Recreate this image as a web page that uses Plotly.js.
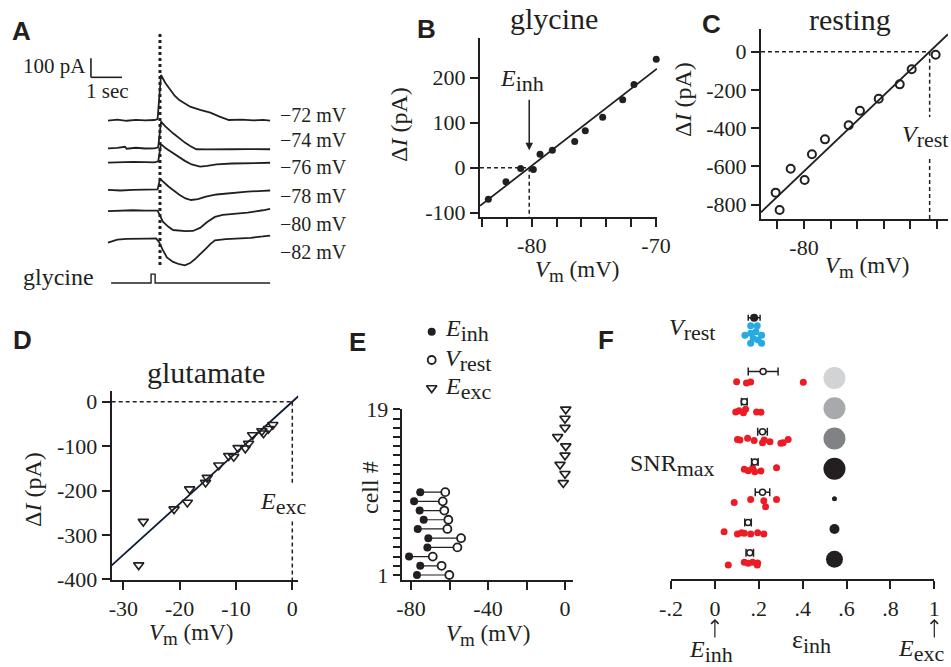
<!DOCTYPE html>
<html><head><meta charset="utf-8">
<script src="https://cdn.plot.ly/plotly-3.0.1.min.js"></script>
<style>html,body{margin:0;padding:0;background:#fff}#chart{width:951px;height:667px}</style>
</head><body><div id="chart"></div><script>
// ---------- Panel A: current traces (time s, current pA relative to baseline)
const aLabels = ['−72 mV','−74 mV','−76 mV','−78 mV','−80 mV','−82 mV'];
const t72 = [0,0.3,0.6,0.9,1.2,1.5,1.6,1.71,1.85,2.0,2.15,2.3,2.48,2.65,2.97,3.3,3.6,3.9,4.3,4.7,5.0,5.23];
const i72 = [-3,2,-4,1,-2,0,5,237,195,158,128,105,86,70,53,39,18,0,2,-2,1,-3];
const t74 = [0,0.3,0.55,0.6,0.9,1.2,1.5,1.62,1.71,1.85,2.1,2.3,2.48,2.65,2.85,3.2,3.6,4.0,4.5,5.0,5.23];
const i74 = [0,2,8,-2,3,-1,0,5,140,115,79,52,30,12,-5,-6,-4,-5,-4,-6,-5];
const t76 = [0,0.4,0.8,1.2,1.5,1.62,1.71,1.85,2.1,2.3,2.48,2.7,2.97,3.2,3.5,4.0,4.5,5.0,5.23];
const i76 = [-2,0,2,0,-1,5,95,75,47,25,7,-12,-23,-19,-11,-7,-5,-4,-3];
const t78 = [0,0.4,0.8,1.2,1.5,1.6,1.68,1.8,1.95,2.1,2.3,2.5,2.68,2.9,3.16,3.5,4.03,4.5,5.0,5.23];
const i78 = [0,-3,0,2,0,3,58,38,18,0,-25,-45,-53,-48,-35,-24,-14,-9,-5,-3];
const t80 = [0,0.4,0.8,1.2,1.5,1.6,1.77,1.95,2.1,2.3,2.5,2.74,2.97,3.2,3.45,3.7,4.03,4.5,5.0,5.23];
const i80 = [-3,0,2,0,1,0,-58,-85,-102,-106,-108,-107,-91,-60,-33,-22,-17,-10,2,9];
const t82 = [0,0.15,0.3,0.6,1.0,1.3,1.55,1.65,1.77,1.9,2.1,2.3,2.48,2.65,2.8,2.97,3.15,3.3,3.45,3.8,4.2,4.6,5.0,5.23];
const i82 = [-22,-12,-6,-3,0,-1,0,-20,-62,-100,-124,-136,-142,-130,-110,-85,-55,-30,-10,-4,-2,3,10,15];
const glyT = [0.1,1.39,1.39,1.52,1.52,5.23];
const glyOn = [0,0,1,1,0,0];

// ---------- Panel B: glycine I-V
const bVm = [-83.49,-82.07,-80.89,-79.87,-79.33,-78.34,-76.54,-75.69,-74.29,-72.68,-71.77,-69.98];
const bDI = [-70,-31,-2,-4,30,39,58,82,112,151,185,241];
const bSlope = 21.4, bEinh = -80.2;

// ---------- Panel C: resting I-V
const cVm = [-82.13,-81.83,-81.0,-79.95,-79.4,-78.42,-76.64,-75.79,-74.38,-72.8,-71.9,-70.1];
const cDI = [-738,-829,-613,-672,-537,-459,-385,-309,-246,-171,-92,-16];
const cSlope = 66.3, cVrest = -70.55;

// ---------- Panel D: glutamate I-V
const dVm = [-26.45,-27.27,-20.99,-18.63,-18.22,-15.4,-15.1,-13.05,-11.29,-10.4,-9.63,-8.34,-7.76,-7.05,-5.4,-5.11,-4.23,-3.46];
const dDI = [-270,-368,-242,-227,-197,-182,-171,-143,-122,-124,-104,-105,-94,-75,-66,-71,-61,-52];
const dSlope = 11.5, dEexc = 0;

// ---------- Panel E: reversal potentials per cell
const eCellsInh = [1,2,3,4,5,6,7,8,9,10];
const eEinh  = [-76.9,-75.2,-81.0,-71.5,-71.0,-76.5,-73.4,-75.5,-78.4,-75.2];
const eVrest = [-60.1,-64.1,-68.7,-55.9,-54.0,-61.1,-60.6,-62.7,-63.5,-62.2];
const eCellsExc = [11,12,13,14,15,16,17,18,19];
const eEexc = [-0.9,0,-2.6,0,0.4,-3.8,0,0,0.4];

// ---------- Panel F: normalized inhibitory reversal
const vrestEps = [0.163,0.193,0.137,0.163,0.187,0.213,0.175,0.197,0.163,0.213];
const vrestJit = [-0.25,-0.25,0.06,0,-0.05,0.06,0.17,0.22,0.33,0.33];
const vrestMean = 0.179, vrestSem = 0.027;
const epsRow1 = [0.099,0.144,0.163,0.403];
const epsRow2 = [0.095,0.11,0.13,0.14,0.19,0.21];
const epsRow3 = [0.103,0.114,0.149,0.179,0.217,0.225,0.251,0.301,0.311,0.334];
const epsRow4 = [0.134,0.152,0.172,0.182,0.21,0.281];
const epsRow5 = [0.088,0.163,0.223,0.281,0.231];
const epsRow6 = [0.042,0.103,0.122,0.134,0.163,0.195,0.223];
const epsRow7 = [0.061,0.134,0.152,0.172,0.195,0.193];
const jitRow1 = [0,0.04,0.01,0.02];
const jitRow2 = [0,-0.04,0.03,-0.09,0,0.01];
const jitRow3 = [-0.09,-0.07,-0.13,-0.05,0.02,-0.07,-0.01,0.04,0.02,-0.09];
const jitRow4 = [-0.1,-0.05,-0.13,-0.02,-0.04,-0.15];
const jitRow5 = [0,-0.1,-0.06,-0.1,0.14];
const jitRow6 = [-0.03,0.04,0,0.02,0.04,0,0.04];
const jitRow7 = [0.07,-0.02,0.01,-0.02,0,0.07];
const rowMeans = [0.22,0.134,0.217,0.182,0.217,0.151,0.159];
const rowSems  = [0.068,0.013,0.022,0.015,0.033,0.015,0.017];
const snrEps = 0.545;
const snrSize = [22,22,22,22,5,10,17];
const snrShade = ['#d1d3d4','#a7a9ac','#808285','#231f20','#231f20','#231f20','#231f20'];
const fTickVals = [-0.2,0,0.2,0.4,0.6,0.8,1];
const fTickText = ['-.2','0','.2','.4','.6','.8','1'];

// ---------- helpers / styles
const SERIF = '"Liberation Serif", "Times New Roman", serif';
const SANS = '"Liberation Sans", Arial, sans-serif';
const INK = '#231f20';
const W = 951, H = 667;
const fx = p => p / W, fy = p => 1 - p / H;
const sub = (s, sz) => '<sub><span style="font-size:' + sz + 'px">' + s + '</span></sub>';
const TICK = 22;

const traces = [];
const aT = [t72,t74,t76,t78,t80,t82], aI = [i72,i74,i76,i78,i80,i82];
const aStack = [0,-149,-222,-368,-477,-623];
aT.forEach((t, k) => traces.push({x:t, y:aI[k].map(v => v + aStack[k]), xaxis:'x', yaxis:'y', mode:'lines', line:{color:INK,width:1.8}, hoverinfo:'skip'}));
traces.push({x:glyT, y:glyOn.map(v => -858 + 47*v), xaxis:'x', yaxis:'y', mode:'lines', line:{color:INK,width:1.4}, hoverinfo:'skip'});

// B
const bX0 = -84.16, bX1 = -69.92;
traces.push({x:[bX0,bX1], y:[bSlope*(bX0-bEinh), bSlope*(bX1-bEinh)], xaxis:'x2', yaxis:'y2', mode:'lines', line:{color:INK,width:1.8}});
traces.push({x:bVm, y:bDI, xaxis:'x2', yaxis:'y2', mode:'markers', marker:{color:INK,size:7,opacity:1}, cliponaxis:false});
// C
const cX0 = -83.23, cX1 = -69.17;
traces.push({x:[cX0,cX1], y:[cSlope*(cX0-cVrest), cSlope*(cX1-cVrest)], xaxis:'x3', yaxis:'y3', mode:'lines', line:{color:INK,width:1.8}, cliponaxis:false});
traces.push({x:cVm, y:cDI, xaxis:'x3', yaxis:'y3', mode:'markers', marker:{symbol:'circle-open',color:INK,size:8,opacity:1,line:{width:2,color:INK}}, cliponaxis:false});
// D
const dX0 = -32.06, dX1 = 1.065;
traces.push({x:[dX0,dX1], y:[dSlope*(dX0-dEexc), dSlope*(dX1-dEexc)], xaxis:'x4', yaxis:'y4', mode:'lines', line:{color:'#0d1b33',width:1.8}, cliponaxis:false});
traces.push({x:dVm, y:dDI, xaxis:'x4', yaxis:'y4', mode:'markers', marker:{symbol:'triangle-down-open',color:INK,size:9,opacity:1,line:{width:1.6,color:INK}}, cliponaxis:false});
// E
const segX = [], segY = [];
eCellsInh.forEach((c, k) => { segX.push(eEinh[k], eVrest[k], null); segY.push(c, c, null); });
traces.push({x:segX, y:segY, xaxis:'x5', yaxis:'y5', mode:'lines', line:{color:INK,width:1.2}});
traces.push({x:eEinh, y:eCellsInh, xaxis:'x5', yaxis:'y5', mode:'markers', marker:{color:INK,size:8,opacity:1}, cliponaxis:false});
traces.push({x:eVrest, y:eCellsInh, xaxis:'x5', yaxis:'y5', mode:'markers', marker:{symbol:'circle',color:'#fff',size:8,opacity:1,line:{width:1.8,color:INK}}, cliponaxis:false});
traces.push({x:eEexc, y:eCellsExc, xaxis:'x5', yaxis:'y5', mode:'markers', marker:{symbol:'triangle-down-open',color:INK,size:9,opacity:1,line:{width:1.7,color:INK}}, cliponaxis:false});
// E legend key symbols, on a full-figure overlay in pixel units
const keyStyles = [
  {color:INK,size:8},
  {symbol:'circle',color:'#fff',size:8,line:{width:1.8,color:INK}},
  {symbol:'triangle-down-open',color:INK,size:9,line:{width:1.7,color:INK}}
];
const keyY = [331.7,360,388];
keyStyles.forEach((m, k) => traces.push({x:[431.7], y:[keyY[k]], xaxis:'x7', yaxis:'y7', mode:'markers', marker:Object.assign({opacity:1}, m)}));
// F
const vrestRow = -0.6;
traces.push({x:vrestEps, y:vrestJit.map(j => vrestRow + j), xaxis:'x6', yaxis:'y6', mode:'markers', marker:{color:'#27aae1',size:7,opacity:1}, cliponaxis:false});
traces.push({x:[vrestMean], y:[vrestRow - 0.52], xaxis:'x6', yaxis:'y6', mode:'markers', marker:{color:INK,size:8,opacity:1}, error_x:{type:'data',array:[vrestSem],color:INK,thickness:1.5,width:3}, cliponaxis:false});
const epsRows = [epsRow1,epsRow2,epsRow3,epsRow4,epsRow5,epsRow6,epsRow7];
const jitRows = [jitRow1,jitRow2,jitRow3,jitRow4,jitRow5,jitRow6,jitRow7];
const rx = [], ry = [];
epsRows.forEach((r, k) => r.forEach((v, j) => { rx.push(v); ry.push(k + 1 + jitRows[k][j]); }));
traces.push({x:rx, y:ry, xaxis:'x6', yaxis:'y6', mode:'markers', marker:{color:'#ed1c24',size:7,opacity:1}, cliponaxis:false});
const rowIdx = rowMeans.map((_, k) => k + 1);
traces.push({x:rowMeans, y:rowIdx.map(r => r - 0.34), xaxis:'x6', yaxis:'y6', mode:'markers', marker:{symbol:'circle',color:'#fff',size:6,opacity:1,line:{width:1.5,color:INK}}, error_x:{type:'data',array:rowSems,color:INK,thickness:1.5,width:4}, cliponaxis:false});
traces.push({x:rowIdx.map(() => snrEps), y:rowIdx.map(r => r - 0.12), xaxis:'x6', yaxis:'y6', mode:'markers', marker:{color:snrShade,size:snrSize,opacity:1,line:{width:0}}, cliponaxis:false});

// ---------- axes
const base = {showline:true, linecolor:INK, linewidth:2, ticks:'outside', ticklen:8, tickwidth:2, tickcolor:INK, showgrid:false, zeroline:false, tickfont:{family:SERIF,size:TICK,color:INK}, fixedrange:true, tickmode:'array'};
const minorTicks = (t0, dt, len) => ({tickmode:'linear', tick0:t0, dtick:dt, ticks:'outside', ticklen:len, tickwidth:2, tickcolor:INK, showgrid:false});

const layout = {
  width:W, height:H, margin:{l:0,r:0,t:0,b:0}, paper_bgcolor:'#fff', plot_bgcolor:'rgba(0,0,0,0)', showlegend:false,
  font:{family:SERIF,color:INK},
  xaxis:{domain:[fx(60),fx(275)], range:[-1.548,5.387], visible:false, fixedrange:true},
  yaxis:{domain:[fy(295),fy(30)], range:[-921,473.7], visible:false, fixedrange:true},
  xaxis2:Object.assign({}, base, {anchor:'y2', domain:[fx(480),fx(657)], range:[-84.16,-69.92], tickvals:[-80,-70], ticktext:['-80','-70'], minor:minorTicks(-84,2,8)}),
  yaxis2:Object.assign({}, base, {anchor:'x2', domain:[fy(217),fy(38)], range:[-109.6,288.2], tickvals:[-100,0,100,200], ticktext:['-100','0','100','200']}),
  xaxis3:Object.assign({}, base, {anchor:'y3', domain:[fx(761),fx(948)], range:[-83.23,-69.17], tickvals:[-80,-70], ticktext:['-80','-70'], minor:minorTicks(-82,2,8)}),
  yaxis3:Object.assign({}, base, {anchor:'x3', domain:[fy(219),fy(29)], range:[-875.9,118.8], tickvals:[0,-200,-400,-600,-800], ticktext:['0','-200','-400','-600','-800']}),
  xaxis4:Object.assign({}, base, {anchor:'y4', domain:[fx(111.7),fx(298.3)], range:[-32.06,1.065], tickvals:[-30,-20,-10,0], ticktext:['-30','-20','-10','0']}),
  yaxis4:Object.assign({}, base, {anchor:'x4', domain:[fy(580),fy(390.7)], range:[-401.6,24.8], tickvals:[0,-100,-200,-300,-400], ticktext:['0','-100','-200','-300','-400']}),
  xaxis5:Object.assign({}, base, {anchor:'y5', domain:[fx(401.7),fx(573.3)], range:[-84.83,4.31], tickvals:[-80,-40,0], ticktext:['-80','-40','0'], minor:minorTicks(-80,20,8)}),
  yaxis5:Object.assign({}, base, {anchor:'x5', domain:[fy(580),fy(409.3)], range:[0.457,19], tickvals:[1,19], ticktext:['1','19'], ticklen:7, minor:minorTicks(1,1,7)}),
  xaxis6:Object.assign({}, base, {anchor:'y6', domain:[fx(671),fx(934.3)], range:[-0.2,1.0], tickvals:fTickVals, ticktext:fTickText}),
  yaxis6:{anchor:'x6', domain:[fy(579.3),fy(300)], range:[7.543,-1.705], visible:false, fixedrange:true},
  xaxis7:{anchor:'y7', domain:[0,1], range:[0,W], visible:false, fixedrange:true},
  yaxis7:{anchor:'x7', domain:[0,1], range:[H,0], visible:false, fixedrange:true},
  shapes:[
    // A scale bar and stimulus marker
    {type:'line', xref:'x', yref:'y', x0:-0.55, x1:-0.55, y0:224.6, y1:324.6, line:{color:INK,width:1.6}},
    {type:'line', xref:'x', yref:'y', x0:-0.55, x1:0.45, y0:224.6, y1:224.6, line:{color:INK,width:1.6}},
    {type:'line', xref:'x', yref:'y', x0:1.677, x1:1.677, y0:-763, y1:458, line:{color:INK,width:3,dash:'dot'}},
    // B reversal
    {type:'line', xref:'x2', yref:'y2', x0:-84.16, x1:bEinh, y0:0, y1:0, line:{color:INK,width:1.5,dash:'4px,3px'}},
    {type:'line', xref:'x2', yref:'y2', x0:bEinh, x1:bEinh, y0:0, y1:-109.6, line:{color:INK,width:1.5,dash:'4px,3px'}},
    // C rest
    {type:'line', xref:'x3', yref:'y3', x0:-83.23, x1:cVrest, y0:0, y1:0, line:{color:INK,width:1.5,dash:'4px,3px'}},
    {type:'line', xref:'x3', yref:'y3', x0:cVrest, x1:cVrest, y0:0, y1:-342, line:{color:INK,width:1.5,dash:'4px,3px'}},
    {type:'line', xref:'x3', yref:'y3', x0:cVrest, x1:cVrest, y0:-562, y1:-875.9, line:{color:INK,width:1.5,dash:'4px,3px'}},
    // D exc
    {type:'line', xref:'x4', yref:'y4', x0:-32.06, x1:dEexc, y0:0, y1:0, line:{color:INK,width:1.5,dash:'4px,3px'}},
    {type:'line', xref:'x4', yref:'y4', x0:dEexc, x1:dEexc, y0:0, y1:-188, line:{color:INK,width:1.5,dash:'4px,3px'}},
    {type:'line', xref:'x4', yref:'y4', x0:dEexc, x1:dEexc, y0:-270, y1:-401.6, line:{color:INK,width:1.5,dash:'4px,3px'}}
  ],
  annotations:[]
};

const A = layout.annotations;
const txt = (x, y, text, size, extra) => A.push(Object.assign({xref:'paper', yref:'paper', x:fx(x), y:fy(y), text:text, showarrow:false, font:{family:SERIF,size:size,color:INK}, xanchor:'center', yanchor:'middle'}, extra || {}));
const letter = (x, y, s) => txt(x, y, '<b>' + s + '</b>', 26, {font:{family:SANS,size:26,color:INK}});
letter(21,31,'A'); letter(426,29,'B'); letter(711,24,'C'); letter(22,340,'D'); letter(357,342,'E'); letter(606,340,'F');

// A texts
const aLabY = [115,140,167,196,224,252];
aLabels.forEach((s, k) => txt(278, aLabY[k], s, 20, {xanchor:'left'}));
txt(88, 66, '100 pA', 21, {xanchor:'right'});
txt(107, 91, '1 sec', 21);
txt(58, 277, 'glycine', 24);

// titles
txt(554, 18, 'glycine', 30);
txt(850, 19, 'resting', 30);
txt(206, 372, 'glutamate', 30);

// axis titles
const vmTitle = '<i>V</i>' + sub('m', 19) + ' (mV)';
const diTitle = 'Δ<i>I</i> (pA)';
txt(577, 271, vmTitle, 23);
txt(867, 267, vmTitle, 23);
txt(191, 634, vmTitle, 23);
txt(488, 635, vmTitle, 23);
txt(399, 125, diTitle, 24, {textangle:-90});
txt(683, 100, diTitle, 24, {textangle:-90});
txt(33, 490, diTitle, 24, {textangle:-90});
txt(370, 488, 'cell #', 24, {textangle:-90});

// reversal labels
txt(522, 80, '<i>E</i>' + sub('inh', 22), 24);
A.push({xref:'x2', yref:'y2', x:bEinh, y:39, ax:0, ay:-52, text:'', showarrow:true, arrowhead:2, arrowsize:1, arrowwidth:1.5, arrowcolor:INK});
txt(925, 136, '<i>V</i>' + sub('rest', 22), 24);
txt(283, 503, '<i>E</i>' + sub('exc', 22), 24);

// E legend
txt(443, 331, '<i>E</i>' + sub('inh', 22), 24, {xanchor:'left'});
txt(443, 360, '<i>V</i>' + sub('rest', 22), 24, {xanchor:'left'});
txt(443, 388, '<i>E</i>' + sub('exc', 22), 24, {xanchor:'left'});

// F texts
txt(692, 330, '<i>V</i>' + sub('rest', 22), 24);
txt(672, 466, 'SNR' + sub('max', 22), 24);
txt(811, 641, 'ε' + sub('inh', 22), 26);
[0, 1].forEach(v => A.push({xref:'x6', yref:'paper', x:v, y:fy(619), ax:0, ay:20, text:'', showarrow:true, arrowhead:4, arrowsize:1.2, arrowwidth:1.2, arrowcolor:INK}));
txt(711, 651, '<i>E</i>' + sub('inh', 22), 24);
txt(946, 650, '<i>E</i>' + sub('exc', 22), 24, {xanchor:'right'});

Plotly.newPlot('chart', traces, layout, {staticPlot:true, displayModeBar:false});
</script></body></html>
